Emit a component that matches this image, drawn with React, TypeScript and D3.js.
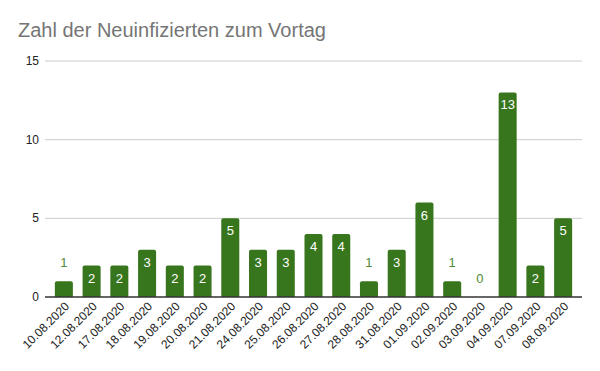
import * as d3 from 'd3'

const dates = [
  '10.08.2020', '12.08.2020', '17.08.2020', '18.08.2020', '19.08.2020', '20.08.2020',
  '21.08.2020', '24.08.2020', '25.08.2020', '26.08.2020', '27.08.2020', '28.08.2020',
  '31.08.2020', '01.09.2020', '02.09.2020', '03.09.2020', '04.09.2020', '07.09.2020', '08.09.2020',
]
const counts = [1, 2, 2, 3, 2, 2, 5, 3, 3, 4, 4, 1, 3, 6, 1, 0, 13, 2, 5]
const yTicks = [0, 5, 10, 15]

const width = 600
const height = 371
const green = '#38761d'
const font = 'Arial, "Liberation Sans", sans-serif'

export default function App() {
  const x = d3.scaleBand<string>().domain(dates).range([50, 577]).paddingInner(0.35).paddingOuter(0.175)
  const y = d3.scaleLinear().domain([0, 15]).range([297, 61])
  const bw = x.bandwidth()
  const r = 2

  // bars with slightly rounded tops
  const barPath = (d: number, i: number) => {
    const x0 = x(dates[i]) ?? 0
    const top = y(d)
    const bottom = y(0)
    if (d === 0) return ''
    const p = d3.path()
    p.moveTo(x0, bottom)
    p.lineTo(x0, top + r)
    p.quadraticCurveTo(x0, top, x0 + r, top)
    p.lineTo(x0 + bw - r, top)
    p.quadraticCurveTo(x0 + bw, top, x0 + bw, top + r)
    p.lineTo(x0 + bw, bottom)
    p.closePath()
    return p.toString()
  }

  return (
    <svg width={width} height={height} style={{ position: 'absolute', left: 0, top: 0, background: '#fff' }}>
      <rect width={width} height={height} fill="#fff" />
      <text x={18} y={37} fontFamily={font} fontSize={20} fill="#757575">
        Zahl der Neuinfizierten zum Vortag
      </text>
      {yTicks.map((t) => (
        <g key={t}>
          {t !== 0 && <line x1={45} x2={582} y1={y(t)} y2={y(t)} stroke="#cccccc" strokeWidth={1} />}
          <text x={39} y={y(t) + 4} textAnchor="end" fontFamily={font} fontSize={12} fill="#222">
            {t}
          </text>
        </g>
      ))}
      {counts.map((d, i) => (
        <path key={dates[i]} d={barPath(d, i)} fill={green} />
      ))}
      <line x1={45} x2={582} y1={y(0)} y2={y(0)} stroke="#333" strokeWidth={1.3} />
      {counts.map((d, i) => {
        const cx = (x(dates[i]) ?? 0) + bw / 2
        const inside = d >= 2
        return (
          <text
            key={'v' + i}
            x={cx}
            y={inside ? y(d) + 17 : y(d) - 14}
            textAnchor="middle"
            fontFamily={font}
            fontSize={13}
            fill={inside ? '#ffffff' : '#4f8b37'}
          >
            {d}
          </text>
        )
      })}
      {dates.map((dt) => {
        const cx = (x(dt) ?? 0) + bw / 2
        return (
          <text
            key={'x' + dt}
            transform={`translate(${cx + 6},${y(0) + 10}) rotate(-45)`}
            textAnchor="end"
            fontFamily={font}
            fontSize={12}
            fill="#222"
          >
            {dt}
          </text>
        )
      })}
    </svg>
  )
}
